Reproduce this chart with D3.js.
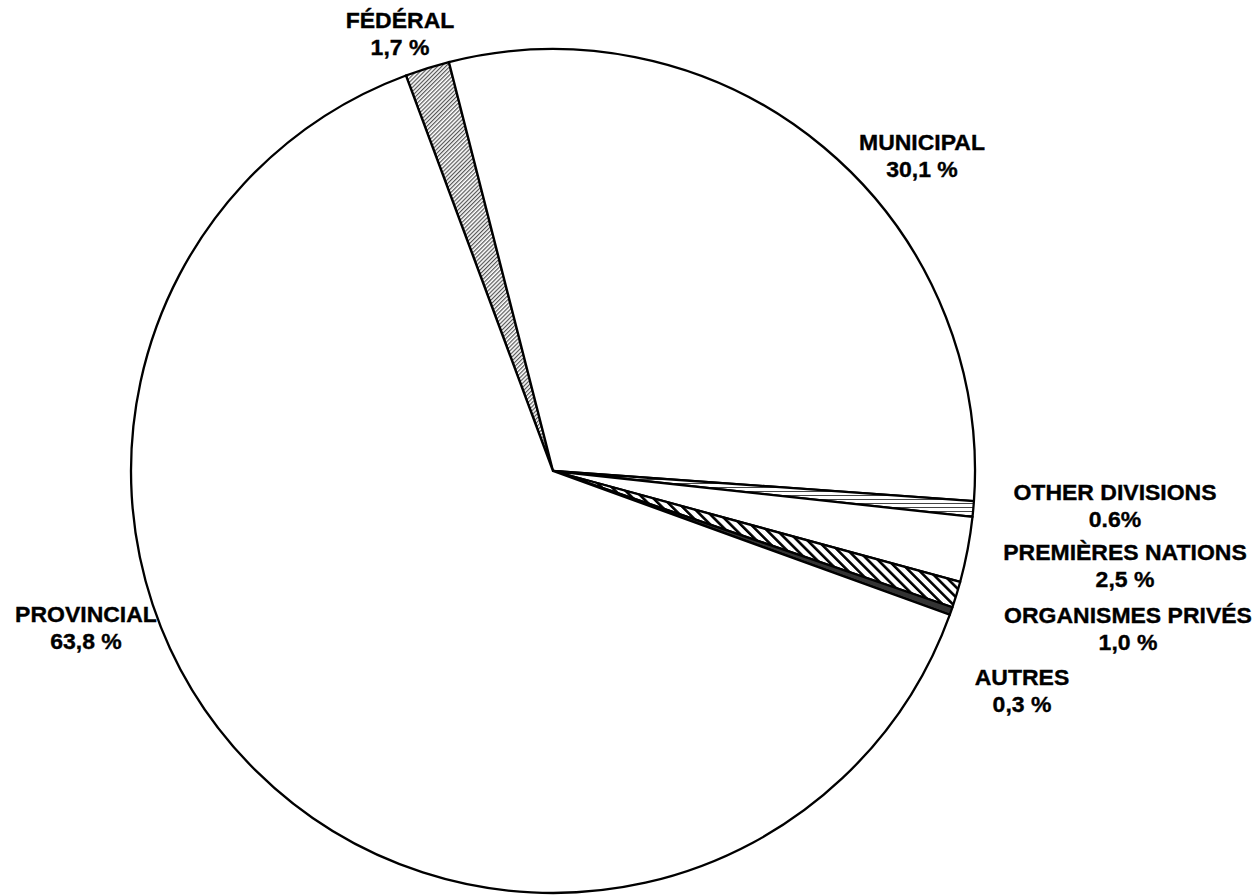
<!DOCTYPE html>
<html>
<head>
<meta charset="utf-8">
<script src="https://cdn.jsdelivr.net/npm/d3@7"></script>
<style>
  html, body { margin: 0; padding: 0; background: #fff; }
  svg { display: block; }
  text { font-family: "Liberation Sans", Arial, sans-serif; font-weight: bold; fill: #000; stroke: #000; stroke-width: 0.35px; }
</style>
</head>
<body>
<svg id="chart" width="1258" height="896"></svg>
<script>
// ---- data ----
const categories = ["FÉDÉRAL", "MUNICIPAL", "OTHER DIVISIONS", "PREMIÈRES NATIONS", "ORGANISMES PRIVÉS", "AUTRES", "PROVINCIAL"];
const values = [1.7, 30.1, 0.6, 2.5, 1.0, 0.3, 63.8];
const valueLabels = ["1,7 %", "30,1 %", "0.6%", "2,5 %", "1,0 %", "0,3 %", "63,8 %"];

// ---- layout / style ----
const fills = ["url(#fedHatch)", "#ffffff", "url(#hLines)", "#ffffff", "url(#privHatch)", "#333333", "#ffffff"];
const labelAnchors = [[400, 28], [922, 150], [1115, 500], [1125, 560], [1128, 623], [1022, 685], [86, 622]];
const lineGap = 27;

const svg = d3.select("#chart");
const cx = 553, cy = 471, r = 422;

const defs = svg.append("defs");
function stripe(id, w, lineW, color, angle) {
  const p = defs.append("pattern")
    .attr("id", id).attr("patternUnits", "userSpaceOnUse")
    .attr("width", w).attr("height", w)
    .attr("patternTransform", `rotate(${angle})`);
  p.append("rect").attr("width", w).attr("height", w).attr("fill", "#fff");
  p.append("rect").attr("x", 0).attr("y", 0).attr("width", lineW).attr("height", w).attr("fill", color);
}
stripe("fedHatch", 2.9, 1.2, "#555", 45);
stripe("privHatch", 7.2, 2.6, "#000", -45);
stripe("hLines", 4, 1, "#444", 90);

const start = -20.4 * Math.PI / 180;
const pie = d3.pie().sort(null).value(d => d).startAngle(start).endAngle(start + 2 * Math.PI);
const arc = d3.arc().innerRadius(0).outerRadius(r);
const arcs = pie(values);

const g = svg.append("g").attr("transform", `translate(${cx},${cy})`);
g.selectAll("path").data(arcs).join("path")
  .attr("d", arc)
  .attr("fill", (d, i) => fills[i])
  .attr("stroke", "#000")
  .attr("stroke-width", 2.3)
  .attr("stroke-linejoin", "round");

const lab = svg.append("g").attr("font-size", 21.5).attr("text-anchor", "middle");
categories.forEach((c, i) => {
  const [x, y] = labelAnchors[i];
  const t = lab.append("text").attr("transform", `translate(${x},${y}) scale(1.07,1)`);
  t.append("tspan").attr("x", 0).attr("y", 0).text(c);
  t.append("tspan").attr("x", 0).attr("y", lineGap).text(valueLabels[i]);
});
</script>
</body>
</html>
